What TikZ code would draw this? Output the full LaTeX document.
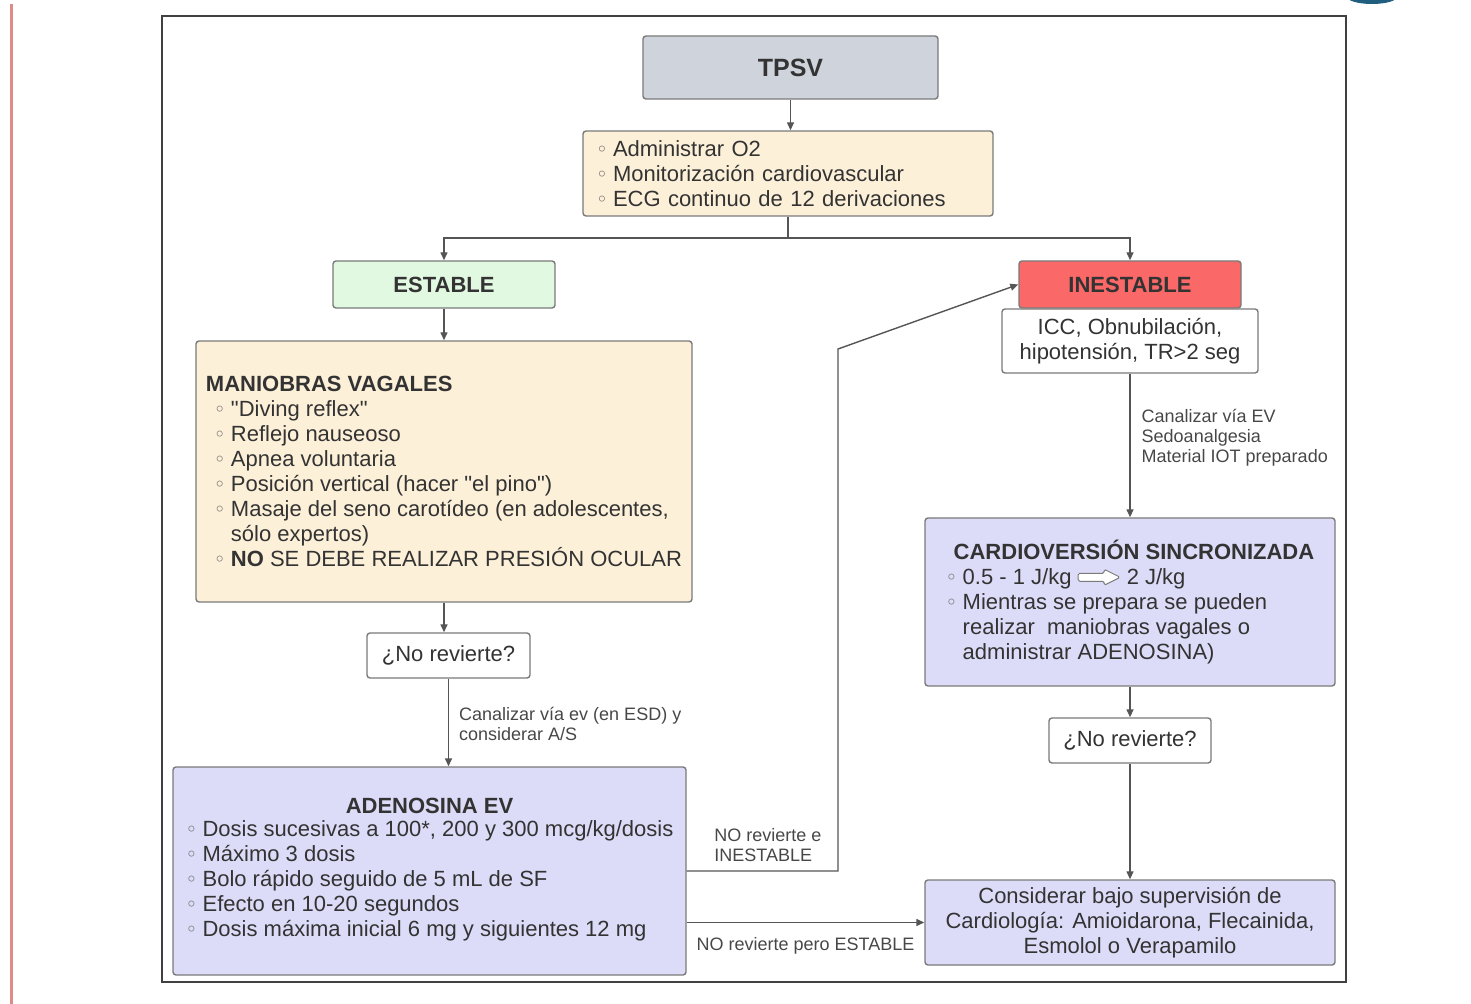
\documentclass[tikz,border=0pt]{standalone}
\usepackage{fontspec}
\setmainfont{Liberation Sans}
\newfontfamily\symfont{DejaVu Sans}
\usetikzlibrary{arrows.meta}

\definecolor{txt}{HTML}{333333}
\definecolor{edge}{HTML}{7A7A7A}
\definecolor{wire}{HTML}{555555}
\definecolor{slate}{HTML}{CFD4DC}
\definecolor{cream}{HTML}{FDF0D9}
\definecolor{mint}{HTML}{E1F8E1}
\definecolor{alarm}{HTML}{FA6868}
\definecolor{lilac}{HTML}{DCDCF8}
\definecolor{margin}{HTML}{E08A8A}
\definecolor{logo}{HTML}{1F5E7E}

\newcommand{\itm}{\makebox[8.5pt][l]{\color{black!60}\fontsize{10}{10}\symfont ◦}}
\newcommand{\fatarrow}{\tikz[x=1pt,y=1pt,baseline=-3.6pt]\draw[edge,fill=white,line width=0.5pt,rounded corners=0.8pt]
	(0,-2) -- (13,-2) -- (13,-4) -- (21,0) -- (13,4) -- (13,2) -- (0,2) -- cycle;}

\tikzset{
	box/.style={draw=edge, line width=0.7pt, rounded corners=1.5pt, text=txt, inner sep=0pt,
		font=\fontsize{11}{12.5}\selectfont},
	head/.style={font=\fontsize{11}{12.5}\selectfont\bfseries},
	note/.style={text=txt!90, font=\fontsize{9}{10}\selectfont, align=left, inner sep=0pt},
	link/.style={draw=wire, line width=0.7pt},
	arr/.style={link, -{Triangle[length=4pt,width=3.5pt]}},
}

\begin{document}
\begin{tikzpicture}[x=0.5pt,y=-0.5pt]
	\useasboundingbox (0,0) rectangle (1471,1004);
	\begin{scope}
		\clip (0,0) rectangle (1471,1004);
		\fill[logo] (1372,-4) ellipse [x radius=13pt, y radius=4pt];
	\end{scope}
	\draw[margin, line width=1.5pt] (11,4) -- (11,1004);
	\draw[black!75, line width=1pt] (162,16) rectangle (1346,982);

	\node[box, fill=slate, minimum width=147.5pt, minimum height=31.5pt,
		font=\fontsize{12.5}{14}\selectfont\bfseries] (tpsv) at (790.5,67.5) {TPSV};
	\node[box, fill=cream, text width=192pt, minimum height=42.5pt, inner xsep=6.5pt, align=left] (o2) at (788,173.5)
		{\itm Administrar O2\\ \itm Monitorización cardiovascular\\ \itm ECG continuo de 12 derivaciones};
	\node[box, head, fill=mint, minimum width=111pt, minimum height=23.5pt] (estable) at (444,284.5) {ESTABLE};
	\node[box, head, fill=alarm, text=black!80, minimum width=111pt, minimum height=23.5pt] (inestable) at (1130,284.5) {INESTABLE};
	\node[box, fill=white, minimum width=128pt, minimum height=32pt, align=center] (icc) at (1130,341)
		{ICC, Obnubilación,\\hipotensión, TR>2 seg};
	\node[box, fill=cream, minimum width=248pt, minimum height=130.5pt, align=left] (vagal) at (444,471.5)
		{\textbf{MANIOBRAS VAGALES}\\
		\hspace*{4pt}\itm \textquotedbl Diving reflex\textquotedbl\\
		\hspace*{4pt}\itm Reflejo nauseoso\\
		\hspace*{4pt}\itm Apnea voluntaria\\
		\hspace*{4pt}\itm Posición vertical (hacer \textquotedbl el pino\textquotedbl)\\
		\hspace*{4pt}\itm Masaje del seno carotídeo (en adolescentes,\\
		\hspace*{12.5pt}sólo expertos)\\
		\hspace*{4pt}\itm \textbf{NO} SE DEBE REALIZAR PRESIÓN OCULAR};
	\node[box, fill=white, minimum width=81.5pt, minimum height=22.5pt] (retryL) at (448.5,655.5) {¿No revierte?};
	\node[box, fill=lilac, minimum width=256.5pt, minimum height=104pt, align=center] (adeno) at (429.5,871)
		{\textbf{ADENOSINA EV}\\[2pt]
		\begin{tabular}{@{}l@{}}
			\itm Dosis sucesivas a 100*, 200 y 300 mcg/kg/dosis\\
			\itm Máximo 3 dosis\\
			\itm Bolo rápido seguido de 5 mL de SF\\
			\itm Efecto en 10-20 segundos\\
			\itm Dosis máxima inicial 6 mg y siguientes 12 mg
		\end{tabular}};
	\node[box, fill=lilac, minimum width=205pt, minimum height=84pt, align=left] (cardio) at (1130,602)
		{\hspace*{4pt}\textbf{CARDIOVERSIÓN SINCRONIZADA}\\
		\itm 0.5 - 1 J/kg \fatarrow{} 2 J/kg\\
		\itm Mientras se prepara se pueden\\
		\hspace*{8.5pt}realizar\ \ maniobras vagales o\\
		\hspace*{8.5pt}administrar ADENOSINA)};
	\node[box, fill=white, minimum width=81pt, minimum height=22.5pt] (retryR) at (1130,740.5) {¿No revierte?};
	\node[box, fill=lilac, minimum width=205pt, minimum height=42.5pt, align=center] (consid) at (1130,922.5)
		{Considerar bajo supervisión de\\Cardiología: Amioidarona, Flecainida,\\Esmolol o Verapamilo};

	\coordinate (split) at (788,238);
	\coordinate (bend) at (838,349);
	\draw[arr] (tpsv.south) -- (tpsv.south |- o2.north);
	\draw[link] (o2.south) -- (split);
	\draw[arr] (split) -| (estable.north);
	\draw[arr] (split) -| (inestable.north);
	\draw[arr] (estable) -- (vagal);
	\draw[arr] (vagal.south) -- (vagal.south |- retryL.north);
	\draw[arr] (retryL.south) -- node[note, anchor=west, xshift=5pt, yshift=-0.75pt]
		{Canalizar vía ev (en ESD) y\\considerar A/S} (retryL.south |- adeno.north);
	\draw[arr] (icc) -- node[note, anchor=west, xshift=5.5pt, yshift=3.75pt]
		{Canalizar vía EV\\Sedoanalgesia\\Material IOT preparado} (cardio);
	\draw[arr] (cardio) -- (retryR);
	\draw[arr] (retryR) -- (consid);
	\draw[arr] (adeno.east) -- (adeno.east -| bend) -- (bend) -- (inestable.west);
	\node[note, anchor=west] (unstable) at (714,845) {NO revierte e\\INESTABLE};
	\draw[arr] (adeno.east |- consid.west) -- node[note, below=7pt] {NO revierte pero ESTABLE} (consid.west);
\end{tikzpicture}
\end{document}
